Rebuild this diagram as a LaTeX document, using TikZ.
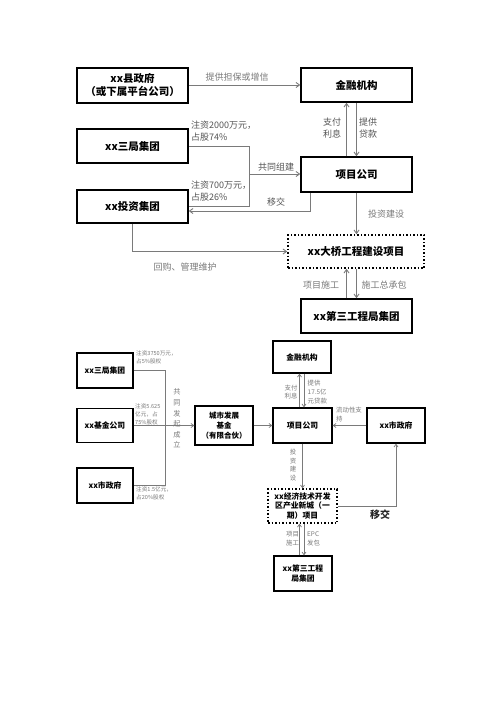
\documentclass[tikz,border=0pt]{standalone}
\usepackage{fontspec}
\setmainfont{Noto Sans CJK SC}
\usetikzlibrary{arrows.meta}
\definecolor{lgray}{HTML}{7A7A7A}
\definecolor{tgray}{HTML}{555555}
\begin{document}
\begin{tikzpicture}[x=1pt,y=-1pt,
  box/.style={draw=black,line width=1.5pt,align=center,inner sep=0pt,font=\bfseries\fontsize{10.5}{13}\selectfont},
  sbox/.style={draw=black,line width=1.3pt,align=center,inner sep=0pt,font=\bfseries\fontsize{7.8}{9.8}\selectfont},
  dbox/.style={draw=black,line width=1.5pt,dotted,align=center,inner sep=0pt},
  line/.style={draw=lgray,line width=0.9pt},
  arr/.style={line,-{Straight Barb[length=3.5pt,width=5pt,line width=0.9pt]}},
  sarr/.style={draw=lgray,line width=0.7pt,-{Straight Barb[length=2.8pt,width=4pt,line width=0.7pt]}},
  lbl/.style={text=tgray,inner sep=0pt,align=left,font=\fontsize{9}{11.5}\selectfont},
  slbl/.style={text=lgray,inner sep=0pt,align=left,font=\fontsize{5.6}{7.6}\selectfont},
  mlbl/.style={text=lgray,inner sep=0pt,align=left,font=\fontsize{6.4}{8.8}\selectfont}]
\useasboundingbox (0,0) rectangle (500,707);
\fill[white] (0,0) rectangle (500,707);
% ---------- top diagram ----------
\node[box,minimum width=111pt,minimum height=35pt] (gov) at (132.5,85.5) {xx县政府\\（或下属平台公司）};
\node[box,minimum width=111pt,minimum height=34pt] (fin) at (356.5,85) {金融机构};
\node[box,minimum width=111pt,minimum height=34pt] (sanju) at (132.5,146) {xx三局集团};
\node[box,minimum width=111pt,minimum height=35pt] (proj) at (356.5,174.5) {项目公司};
\node[box,minimum width=111pt,minimum height=33pt] (inv) at (132.5,206.5) {xx投资集团};
\node[dbox,minimum width=136pt,minimum height=33pt,font=\bfseries\fontsize{10.5}{13}\selectfont] (bridge) at (356,251.5) {xx大桥工程建设项目};
\node[box,minimum width=111pt,minimum height=34pt] (third) at (356.5,316) {xx第三工程局集团};

\draw[arr] (gov.east |- fin.west) -- (fin.west);
\node[lbl,text=lgray] (l1) at (237,77) {提供担保或增信};

\coordinate (J1) at (249,206.5);
\coordinate (J1m) at (249,174);
\draw[line] (sanju.east) -| (J1) -- (inv.east);
\draw[arr] (J1m) -- (J1m -| proj.west);
\node[lbl,anchor=north west] (l2) at (191,121) {注资2000万元，\\占股74\%};
\node[lbl] (l3) at (276,167) {共同组建};
\node[lbl,anchor=north west] (l4) at (191,181) {注资700万元，\\占股26\%};

\coordinate (xC) at (310,211);
\draw[arr] (xC |- proj.south) -- (xC) -- (xC -| inv.east);
\node[lbl] (l5) at (276,202) {移交};

\coordinate (xA) at (346.5,0);
\coordinate (xB) at (356.5,0);
\draw[arr] (xA |- proj.north) -- (xA |- fin.south);
\draw[arr] (xB |- fin.south) -- (xB |- proj.north);
\node[lbl,align=center] (l6) at (332,128) {支付\\利息};
\node[lbl,align=center] (l7) at (368,128) {提供\\贷款};

\draw[arr] (xB |- proj.south) -- (xB |- bridge.north);
\node[lbl,text=lgray] (l8) at (386,214) {投资建设};

\draw[arr] (inv.south) |- (bridge.west);
\node[lbl,text=lgray] (l9) at (185,267) {回购、管理维护};

\draw[arr] (xA |- third.north) -- (xA |- bridge.south);
\draw[arr] (xB |- bridge.south) -- (xB |- third.north);
\node[lbl,text=lgray] (l10) at (321,285) {项目施工};
\node[lbl,text=lgray] (l11) at (384,285) {施工总承包};

% ---------- bottom diagram ----------
\node[sbox,minimum width=56pt,minimum height=35pt] (sanju2) at (105,370.5) {xx三局集团};
\node[sbox,minimum width=56pt,minimum height=34pt] (fund) at (105,425.5) {xx基金公司};
\node[sbox,minimum width=56pt,minimum height=35pt] (gov2) at (105,485.5) {xx市政府};
\node[sbox,minimum width=58pt,minimum height=39pt,font=\bfseries\fontsize{7.5}{10}\selectfont] (cdf) at (224,425.5) {城市发展\\基金\\（有限合伙）};
\node[sbox,minimum width=58pt,minimum height=32pt] (fin2) at (302,357) {金融机构};
\node[sbox,minimum width=59pt,minimum height=35pt] (proj2) at (302.5,425.5) {项目公司};
\node[sbox,minimum width=58pt,minimum height=35pt] (gov3) at (396,425.5) {xx市政府};
\node[dbox,line width=1.3pt,minimum width=69pt,minimum height=34pt,font=\bfseries\fontsize{7.8}{9.5}\selectfont] (econ) at (302.5,506) {xx经济技术开发\\区产业新城（一\\期）项目};
\node[sbox,minimum width=58pt,minimum height=35pt] (third2) at (303,573.5) {xx第三工程\\局集团};

\coordinate (J2) at (165,485.5);
\draw[line,line width=0.7pt] (sanju2.east) -| (J2) -- (gov2.east);
\draw[sarr] (fund.east) -- (cdf.west);
\node[slbl,anchor=north west] (m1) at (136,351) {注资3750万元，\\占5\%股权};
\node[slbl,anchor=north west] (m2) at (135,404) {注资5.625\\亿元，占\\75\%股权};
\node[slbl,anchor=north west] (m3) at (136,487) {注资1.5亿元，\\占20\%股权};
\node[text=lgray,inner sep=0pt,align=center,font=\fontsize{7.2}{10.6}\selectfont] (m4) at (177,418.5) {共\\同\\发\\起\\成\\立};

\draw[sarr] (cdf.east) -- (proj2.west);

\coordinate (yA) at (299.5,0);
\coordinate (yB) at (304,0);
\draw[sarr] (yA |- proj2.north) -- (yA |- fin2.south);
\draw[sarr] (yB |- fin2.south) -- (yB |- proj2.north);
\node[mlbl,align=center] (m5) at (291,392) {支付\\利息};
\node[mlbl,anchor=west] (m6) at (307.5,392) {提供\\17.5亿\\元贷款};

\draw[sarr] (gov3.west) -- (proj2.east);
\node[mlbl,anchor=north west] (m7) at (336,407) {流动性支\\持};

\coordinate (yC) at (302.5,0);
\draw[sarr] (yC |- proj2.south) -- (yC |- econ.north);
\node[text=lgray,inner sep=0pt,align=center,font=\fontsize{6.4}{8.8}\selectfont] (m8) at (293,465) {投\\资\\建\\设};

\draw[sarr] (econ.east) -| (gov3.south);
\node[inner sep=0pt,font=\bfseries\fontsize{10}{12}\selectfont,text=black!85] (m9) at (380,515) {移交};

\draw[sarr] (yA |- third2.north) -- (yA |- econ.south);
\draw[sarr] (yB |- econ.south) -- (yB |- third2.north);
\node[mlbl,align=center] (m10) at (292.5,538.5) {项目\\施工};
\node[mlbl,anchor=west] (m11) at (307,538.5) {EPC\\发包};
\end{tikzpicture}
\end{document}
